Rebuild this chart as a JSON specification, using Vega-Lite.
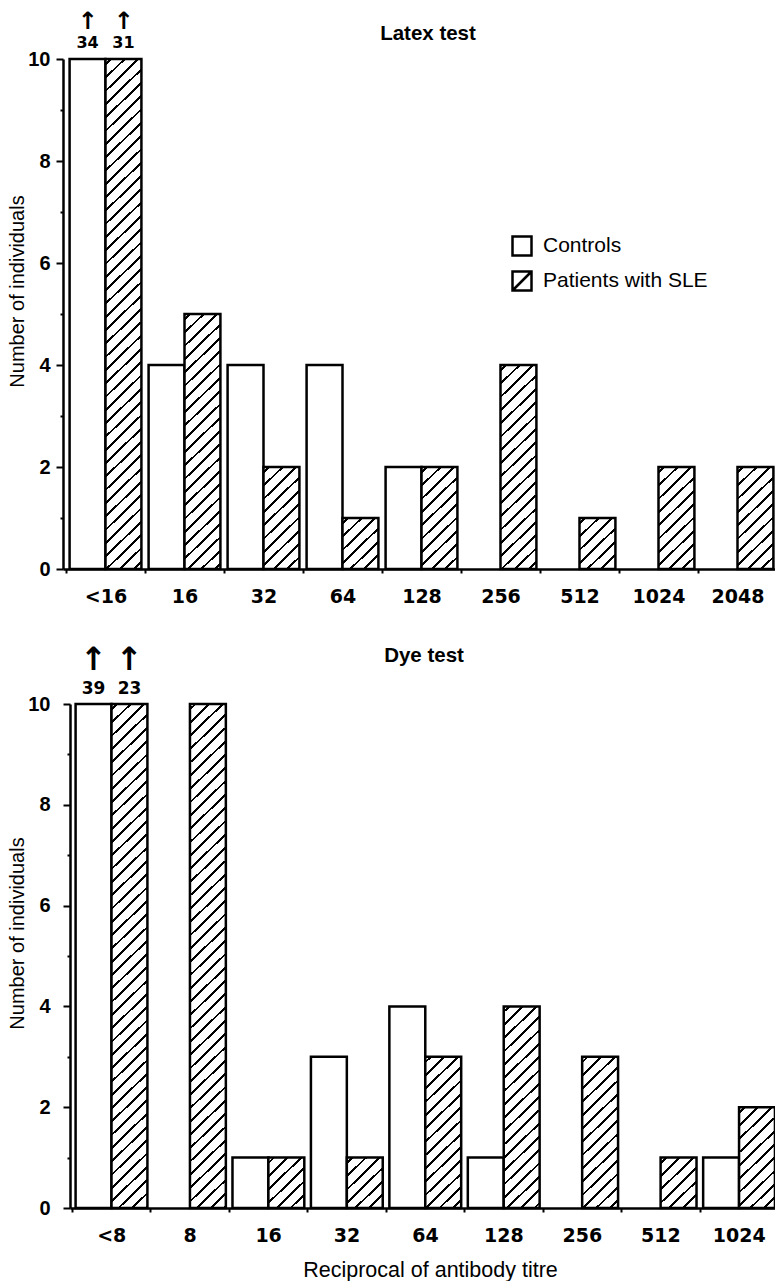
{
  "$schema": "https://vega.github.io/schema/vega-lite/v6.json",
  "background": "white",
  "padding": {"left": 7, "top": 10, "right": 0, "bottom": 0},
  "spacing": 38,
  "params": [
    {"name": "hs", "value": [
      {"offset":0.0073,"color":"#fff"},{"offset":0.0073,"color":"#000"},{"offset":0.0124,"color":"#000"},{"offset":0.0124,"color":"#fff"},
      {"offset":0.0315,"color":"#fff"},{"offset":0.0315,"color":"#000"},{"offset":0.0365,"color":"#000"},{"offset":0.0365,"color":"#fff"},
      {"offset":0.0556,"color":"#fff"},{"offset":0.0556,"color":"#000"},{"offset":0.0607,"color":"#000"},{"offset":0.0607,"color":"#fff"},
      {"offset":0.0798,"color":"#fff"},{"offset":0.0798,"color":"#000"},{"offset":0.0849,"color":"#000"},{"offset":0.0849,"color":"#fff"},
      {"offset":0.1040,"color":"#fff"},{"offset":0.1040,"color":"#000"},{"offset":0.1091,"color":"#000"},{"offset":0.1091,"color":"#fff"},
      {"offset":0.1282,"color":"#fff"},{"offset":0.1282,"color":"#000"},{"offset":0.1333,"color":"#000"},{"offset":0.1333,"color":"#fff"},
      {"offset":0.1524,"color":"#fff"},{"offset":0.1524,"color":"#000"},{"offset":0.1575,"color":"#000"},{"offset":0.1575,"color":"#fff"},
      {"offset":0.1766,"color":"#fff"},{"offset":0.1766,"color":"#000"},{"offset":0.1816,"color":"#000"},{"offset":0.1816,"color":"#fff"},
      {"offset":0.2007,"color":"#fff"},{"offset":0.2007,"color":"#000"},{"offset":0.2058,"color":"#000"},{"offset":0.2058,"color":"#fff"},
      {"offset":0.2249,"color":"#fff"},{"offset":0.2249,"color":"#000"},{"offset":0.2300,"color":"#000"},{"offset":0.2300,"color":"#fff"},
      {"offset":0.2491,"color":"#fff"},{"offset":0.2491,"color":"#000"},{"offset":0.2542,"color":"#000"},{"offset":0.2542,"color":"#fff"},
      {"offset":0.2733,"color":"#fff"},{"offset":0.2733,"color":"#000"},{"offset":0.2784,"color":"#000"},{"offset":0.2784,"color":"#fff"},
      {"offset":0.2975,"color":"#fff"},{"offset":0.2975,"color":"#000"},{"offset":0.3025,"color":"#000"},{"offset":0.3025,"color":"#fff"},
      {"offset":0.3216,"color":"#fff"},{"offset":0.3216,"color":"#000"},{"offset":0.3267,"color":"#000"},{"offset":0.3267,"color":"#fff"},
      {"offset":0.3458,"color":"#fff"},{"offset":0.3458,"color":"#000"},{"offset":0.3509,"color":"#000"},{"offset":0.3509,"color":"#fff"},
      {"offset":0.3700,"color":"#fff"},{"offset":0.3700,"color":"#000"},{"offset":0.3751,"color":"#000"},{"offset":0.3751,"color":"#fff"},
      {"offset":0.3942,"color":"#fff"},{"offset":0.3942,"color":"#000"},{"offset":0.3993,"color":"#000"},{"offset":0.3993,"color":"#fff"},
      {"offset":0.4184,"color":"#fff"},{"offset":0.4184,"color":"#000"},{"offset":0.4235,"color":"#000"},{"offset":0.4235,"color":"#fff"},
      {"offset":0.4425,"color":"#fff"},{"offset":0.4425,"color":"#000"},{"offset":0.4476,"color":"#000"},{"offset":0.4476,"color":"#fff"},
      {"offset":0.4667,"color":"#fff"},{"offset":0.4667,"color":"#000"},{"offset":0.4718,"color":"#000"},{"offset":0.4718,"color":"#fff"},
      {"offset":0.4909,"color":"#fff"},{"offset":0.4909,"color":"#000"},{"offset":0.4960,"color":"#000"},{"offset":0.4960,"color":"#fff"},
      {"offset":0.5151,"color":"#fff"},{"offset":0.5151,"color":"#000"},{"offset":0.5202,"color":"#000"},{"offset":0.5202,"color":"#fff"},
      {"offset":0.5393,"color":"#fff"},{"offset":0.5393,"color":"#000"},{"offset":0.5444,"color":"#000"},{"offset":0.5444,"color":"#fff"},
      {"offset":0.5635,"color":"#fff"},{"offset":0.5635,"color":"#000"},{"offset":0.5685,"color":"#000"},{"offset":0.5685,"color":"#fff"},
      {"offset":0.5876,"color":"#fff"},{"offset":0.5876,"color":"#000"},{"offset":0.5927,"color":"#000"},{"offset":0.5927,"color":"#fff"},
      {"offset":0.6118,"color":"#fff"},{"offset":0.6118,"color":"#000"},{"offset":0.6169,"color":"#000"},{"offset":0.6169,"color":"#fff"},
      {"offset":0.6360,"color":"#fff"},{"offset":0.6360,"color":"#000"},{"offset":0.6411,"color":"#000"},{"offset":0.6411,"color":"#fff"},
      {"offset":0.6602,"color":"#fff"},{"offset":0.6602,"color":"#000"},{"offset":0.6653,"color":"#000"},{"offset":0.6653,"color":"#fff"},
      {"offset":0.6844,"color":"#fff"},{"offset":0.6844,"color":"#000"},{"offset":0.6895,"color":"#000"},{"offset":0.6895,"color":"#fff"},
      {"offset":0.7085,"color":"#fff"},{"offset":0.7085,"color":"#000"},{"offset":0.7136,"color":"#000"},{"offset":0.7136,"color":"#fff"},
      {"offset":0.7327,"color":"#fff"},{"offset":0.7327,"color":"#000"},{"offset":0.7378,"color":"#000"},{"offset":0.7378,"color":"#fff"},
      {"offset":0.7569,"color":"#fff"},{"offset":0.7569,"color":"#000"},{"offset":0.7620,"color":"#000"},{"offset":0.7620,"color":"#fff"},
      {"offset":0.7811,"color":"#fff"},{"offset":0.7811,"color":"#000"},{"offset":0.7862,"color":"#000"},{"offset":0.7862,"color":"#fff"},
      {"offset":0.8053,"color":"#fff"},{"offset":0.8053,"color":"#000"},{"offset":0.8104,"color":"#000"},{"offset":0.8104,"color":"#fff"},
      {"offset":0.8295,"color":"#fff"},{"offset":0.8295,"color":"#000"},{"offset":0.8345,"color":"#000"},{"offset":0.8345,"color":"#fff"},
      {"offset":0.8536,"color":"#fff"},{"offset":0.8536,"color":"#000"},{"offset":0.8587,"color":"#000"},{"offset":0.8587,"color":"#fff"},
      {"offset":0.8778,"color":"#fff"},{"offset":0.8778,"color":"#000"},{"offset":0.8829,"color":"#000"},{"offset":0.8829,"color":"#fff"},
      {"offset":0.9020,"color":"#fff"},{"offset":0.9020,"color":"#000"},{"offset":0.9071,"color":"#000"},{"offset":0.9071,"color":"#fff"},
      {"offset":0.9262,"color":"#fff"},{"offset":0.9262,"color":"#000"},{"offset":0.9313,"color":"#000"},{"offset":0.9313,"color":"#fff"},
      {"offset":0.9504,"color":"#fff"},{"offset":0.9504,"color":"#000"},{"offset":0.9554,"color":"#000"},{"offset":0.9554,"color":"#fff"},
      {"offset":0.9745,"color":"#fff"},{"offset":0.9745,"color":"#000"},{"offset":0.9796,"color":"#000"},{"offset":0.9796,"color":"#fff"}
    ]}
  ],
  "datasets": {
    "latex": [
      {"titre": "<16", "group": "Controls", "value": 34},
      {"titre": "16", "group": "Controls", "value": 4},
      {"titre": "32", "group": "Controls", "value": 4},
      {"titre": "64", "group": "Controls", "value": 4},
      {"titre": "128", "group": "Controls", "value": 2},
      {"titre": "<16", "group": "Patients with SLE", "value": 31},
      {"titre": "16", "group": "Patients with SLE", "value": 5},
      {"titre": "32", "group": "Patients with SLE", "value": 2},
      {"titre": "64", "group": "Patients with SLE", "value": 1},
      {"titre": "128", "group": "Patients with SLE", "value": 2},
      {"titre": "256", "group": "Patients with SLE", "value": 4},
      {"titre": "512", "group": "Patients with SLE", "value": 1},
      {"titre": "1024", "group": "Patients with SLE", "value": 2},
      {"titre": "2048", "group": "Patients with SLE", "value": 2}
    ],
    "dye": [
      {"titre": "<8", "group": "Controls", "value": 39},
      {"titre": "16", "group": "Controls", "value": 1},
      {"titre": "32", "group": "Controls", "value": 3},
      {"titre": "64", "group": "Controls", "value": 4},
      {"titre": "128", "group": "Controls", "value": 1},
      {"titre": "1024", "group": "Controls", "value": 1},
      {"titre": "<8", "group": "Patients with SLE", "value": 23},
      {"titre": "8", "group": "Patients with SLE", "value": 10},
      {"titre": "16", "group": "Patients with SLE", "value": 1},
      {"titre": "32", "group": "Patients with SLE", "value": 1},
      {"titre": "64", "group": "Patients with SLE", "value": 3},
      {"titre": "128", "group": "Patients with SLE", "value": 4},
      {"titre": "256", "group": "Patients with SLE", "value": 3},
      {"titre": "512", "group": "Patients with SLE", "value": 1},
      {"titre": "1024", "group": "Patients with SLE", "value": 2}
    ]
  },
  "vconcat": [
    {
      "width": 710,
      "height": 510,
      "data": {"name": "latex"},
      "title": {"text": "Latex test", "font": "Liberation Sans", "fontSize": 20.5, "fontWeight": "bold", "color": "black", "anchor": "middle", "frame": "group", "dx": 3, "dy": 50, "offset": 0, "baseline": "alphabetic"},
      "encoding": {
        "x": {"field": "titre", "type": "nominal", "sort": null,
          "scale": {"domain": ["<16", "16", "32", "64", "128", "256", "512", "1024", "2048"], "range": [-7, 710], "paddingInner": 0, "paddingOuter": 0.038},
          "axis": {"title": null, "labelAngle": 0, "tickBand": "extent", "tickSize": 4, "tickWidth": 2, "domainWidth": 2.5, "labelFont": "DejaVu Sans", "labelFontWeight": "bold", "labelFontSize": 19, "labelPadding": 14, "labelOverlap": false, "grid": false}},
        "xOffset": {"field": "group", "type": "nominal", "scale": {"domain": ["Controls", "Patients with SLE"], "paddingInner": 0, "paddingOuter": 0.1}},
        "y": {"field": "value", "type": "quantitative", "stack": null,
          "scale": {"domain": [0, 10], "nice": false, "clamp": true},
          "axis": {"offset": 7, "values": [0, 1, 2, 3, 4, 5, 6, 7, 8, 9, 10], "labelExpr": "datum.value % 2 === 0 ? datum.label : ''",
            "tickSize": {"condition": {"test": "datum.value % 2 === 1", "value": 3}, "value": 7},
            "tickWidth": 2, "domainWidth": 2.5, "labelFont": "Liberation Sans", "labelFontWeight": "bold", "labelFontSize": 20, "labelPadding": 6,
            "title": "Number of individuals", "titleFont": "Liberation Sans", "titleFontWeight": "normal", "titleFontSize": 20, "titlePadding": 0, "titleY": 232, "grid": false}}
      },
      "layer": [
        {
          "transform": [{"filter": "datum.group === 'Controls'"}],
          "mark": {"type": "bar", "stroke": "black", "strokeWidth": 2.5},
          "encoding": {
            "fill": {"field": "group", "type": "nominal",
              "scale": {"domain": ["Controls", "Patients with SLE"], "range": ["white", "white"]},
              "legend": {"orient": "none", "legendX": 441, "legendY": 176, "title": null, "padding": 0,
                "symbolType": "square", "symbolSize": 361, "symbolStrokeWidth": 2.5, "symbolStrokeColor": "black",
                "labelFont": "Liberation Sans", "labelFontSize": 21, "labelColor": "black", "labelOffset": 10, "labelLimit": 400, "rowPadding": 5,
                "encode": {"symbols": {"update": {"shape": {"signal": "datum.value === 'Controls' ? 'square' : 'M-1,-1H1V1H-1Z M-1,1L1,-1'"}}}}}}
          }
        },
        {
          "transform": [{"filter": "datum.group !== 'Controls'"}],
          "mark": {"type": "bar", "stroke": "black", "strokeWidth": 2.5,
            "fill": {"expr": "{gradient: 'linear', x1: 0, y1: 0, x2: 19250 / (1225 + pow(51 * min(datum.value, 10), 2)), y2: 28050 * min(datum.value, 10) / (1225 + pow(51 * min(datum.value, 10), 2)), stops: hs}"}}
        },
        {
          "transform": [{"filter": "datum.value > 10"}],
          "mark": {"type": "text", "font": "DejaVu Sans", "fontWeight": "bold", "fontSize": 16, "dy": -11, "baseline": "alphabetic", "color": "black"},
          "encoding": {"text": {"field": "value", "type": "quantitative"}}
        },
        {
          "transform": [{"filter": "datum.value > 10"}],
          "mark": {"type": "text", "font": "DejaVu Sans", "fontWeight": "bold", "fontSize": 24, "dy": -30, "baseline": "alphabetic", "color": "black", "text": "↑"}
        }
      ]
    },
    {
      "width": 710,
      "height": 504,
      "data": {"name": "dye"},
      "title": {"text": "Dye test", "font": "Liberation Sans", "fontSize": 20.5, "fontWeight": "bold", "color": "black", "anchor": "middle", "frame": "group", "dx": -1, "dy": 38, "offset": 0, "baseline": "alphabetic"},
      "encoding": {
        "x": {"field": "titre", "type": "nominal", "sort": null,
          "scale": {"domain": ["<8", "8", "16", "32", "64", "128", "256", "512", "1024"], "paddingInner": 0, "paddingOuter": 0.0255},
          "axis": {"title": "Reciprocal of antibody titre", "titleFont": "Liberation Sans", "titleFontWeight": "normal", "titleFontSize": 21.5, "titlePadding": 14, "titleX": 360,
            "labelAngle": 0, "tickBand": "extent", "tickSize": 4, "tickWidth": 2, "domainWidth": 2.5, "labelFont": "DejaVu Sans", "labelFontWeight": "bold", "labelFontSize": 19, "labelPadding": 14, "labelOverlap": false, "grid": false}},
        "xOffset": {"field": "group", "type": "nominal", "scale": {"domain": ["Controls", "Patients with SLE"], "paddingInner": 0, "paddingOuter": 0.12}},
        "y": {"field": "value", "type": "quantitative", "stack": null,
          "scale": {"domain": [0, 10], "nice": false, "clamp": true},
          "axis": {"values": [0, 1, 2, 3, 4, 5, 6, 7, 8, 9, 10], "labelExpr": "datum.value % 2 === 0 ? datum.label : ''",
            "tickSize": {"condition": {"test": "datum.value % 2 === 1", "value": 3}, "value": 7},
            "tickWidth": 2, "domainWidth": 2.5, "labelFont": "Liberation Sans", "labelFontWeight": "bold", "labelFontSize": 20, "labelPadding": 13,
            "title": "Number of individuals", "titleFont": "Liberation Sans", "titleFontWeight": "normal", "titleFontSize": 20, "titlePadding": 0, "titleY": 229, "grid": false}}
      },
      "layer": [
        {
          "transform": [{"filter": "datum.group === 'Controls'"}],
          "mark": {"type": "bar", "stroke": "black", "strokeWidth": 2.5, "fill": "white"}
        },
        {
          "transform": [{"filter": "datum.group !== 'Controls'"}],
          "mark": {"type": "bar", "stroke": "black", "strokeWidth": 2.5,
            "fill": {"expr": "{gradient: 'linear', x1: 0, y1: 0, x2: 19250 / (1225 + pow(50.4 * min(datum.value, 10), 2)), y2: 27720 * min(datum.value, 10) / (1225 + pow(50.4 * min(datum.value, 10), 2)), stops: hs}"}}
        },
        {
          "transform": [{"filter": "datum.value > 10"}],
          "mark": {"type": "text", "font": "DejaVu Sans", "fontWeight": "bold", "fontSize": 17, "dy": -10, "baseline": "alphabetic", "color": "black"},
          "encoding": {"text": {"field": "value", "type": "quantitative"}}
        },
        {
          "transform": [{"filter": "datum.value > 10"}],
          "mark": {"type": "text", "font": "DejaVu Sans", "fontWeight": "bold", "fontSize": 32, "dy": -34, "baseline": "alphabetic", "color": "black", "text": "↑"}
        }
      ]
    }
  ],
  "config": {
    "view": {"stroke": null},
    "axis": {"domainColor": "black", "tickColor": "black", "labelColor": "black", "titleColor": "black", "grid": false}
  }
}
